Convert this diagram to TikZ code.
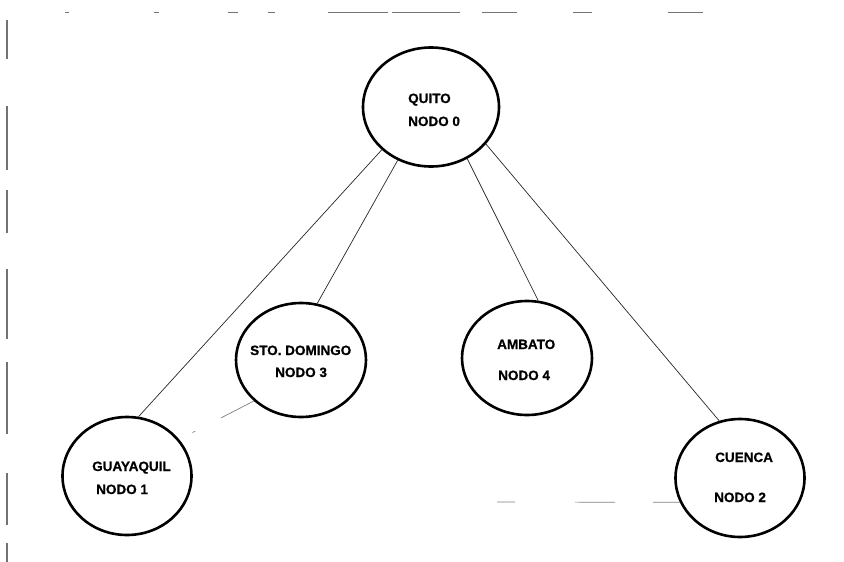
\documentclass[tikz,border=0pt]{standalone}
\usepackage{fontspec}
\setmainfont{Liberation Sans}[BoldFeatures={FakeBold=0.9}]
\usepackage{tikz}
\usetikzlibrary{shapes.geometric}

\begin{document}
\begin{tikzpicture}[x=1pt, y=-1pt,
  ciudad/.style={ellipse, draw=black, line width=2.6pt, inner sep=0pt},
  rotulo/.style={font=\fontsize{13.5}{15}\selectfont\bfseries, inner sep=0pt, anchor=base west},
  enlace/.style={draw=black!85, line width=0.7pt},
  borroso/.style={draw=black!50, line width=0.7pt},
  marco/.style={draw=black!55, line width=1.1pt}]

  \useasboundingbox (0,0) rectangle (844,562);

  % ========== MARCO (restos del borde) ==========
  \foreach \ya/\yb in {20/59, 106/170, 190/233, 269/339, 362/434, 473/525, 543/562}
    \draw[marco] (7,\ya) -- (7,\yb);
  \foreach \xa/\xb in {65/69, 154/159, 228/238, 268/275, 328/388, 392/460, 482/517, 573/592, 668/703}
    \draw[marco, line width=0.9pt] (\xa,12) -- (\xb,12);

  % ========== NODOS ==========
  \node[ciudad, minimum width=136pt, minimum height=119pt] (quito) at (431,107) {};
  \node[ciudad, minimum width=129pt, minimum height=118pt] (gye)   at (127,476) {};
  \node[ciudad, minimum width=130pt, minimum height=114pt] (std)   at (301,360) {};
  \node[ciudad, minimum width=130pt, minimum height=114pt] (amb)   at (527,358) {};
  \node[ciudad, minimum width=129pt, minimum height=118pt] (cue)   at (740,478) {};

  % Rotulos
  \node[rotulo] (quito-a) at (408,103) {QUITO};
  \node[rotulo] (quito-b) at (408,126) {NODO 0};
  \node[rotulo] (gye-a)   at (92,471)  {GUAYAQUIL};
  \node[rotulo] (gye-b)   at (96,494)  {NODO 1};
  \node[rotulo] (std-a)   at (250,355) {STO. DOMINGO};
  \node[rotulo] (std-b)   at (275,377) {NODO 3};
  \node[rotulo] (amb-a)   at (497,349) {AMBATO};
  \node[rotulo] (amb-b)   at (498,380) {NODO 4};
  \node[rotulo] (cue-a)   at (715,462) {CUENCA};
  \node[rotulo] (cue-b)   at (714,502) {NODO 2};

  % ========== ENLACES ==========
  \draw[enlace] (quito.221) -- (gye.79);
  \draw[enlace] (quito.238) -- (std.74);
  \draw[enlace] (quito.305) -- (amb.79);
  \draw[enlace] (quito.326) -- (cue.110);

  % enlaces apenas visibles
  \draw[borroso, dash pattern=on 0pt off 15pt on 3pt off 29pt on 45pt] (gye.35) -- (std.221);
  \coordinate (finH) at (497,502);
  \draw[borroso, dash pattern=on 18pt off 60pt on 40pt off 38pt on 30pt] (finH) -- (cue.202);

\end{tikzpicture}
\end{document}
